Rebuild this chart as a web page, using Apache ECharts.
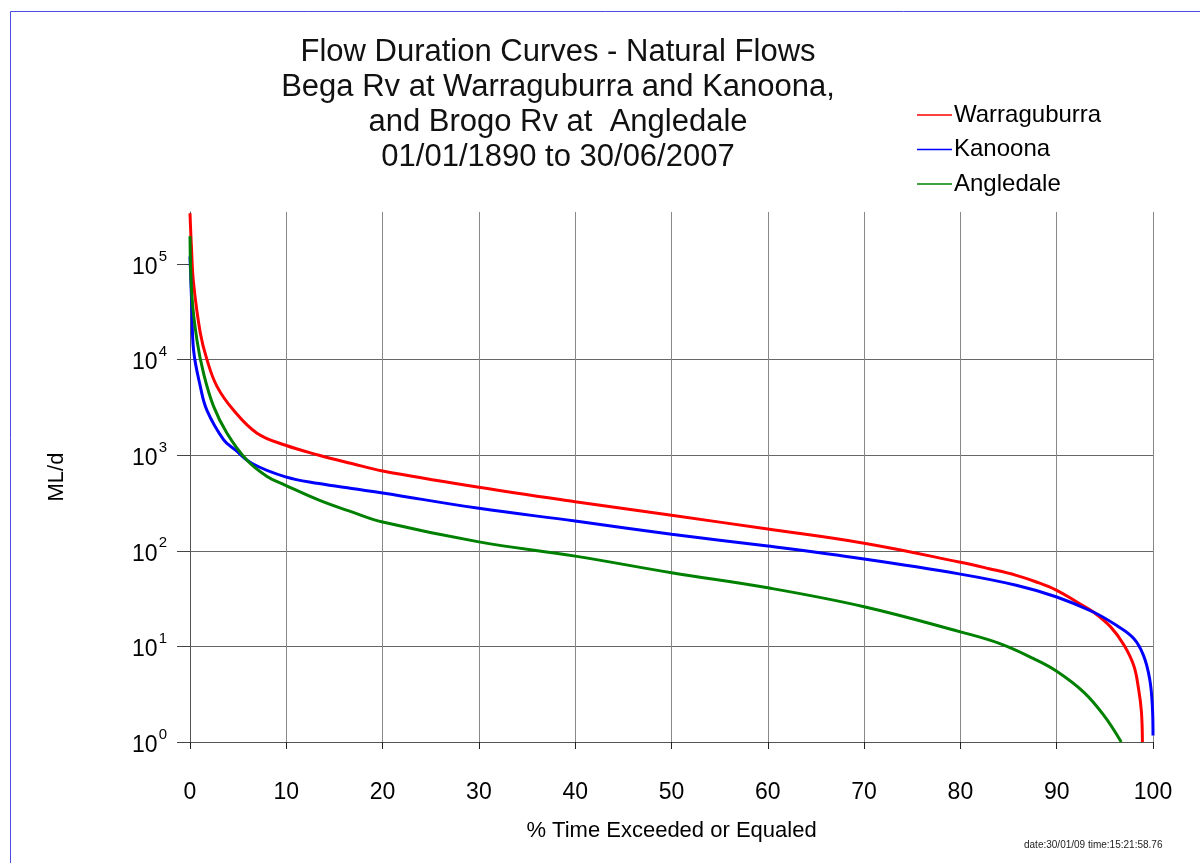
<!DOCTYPE html>
<html>
<head>
<meta charset="utf-8">
<title>Flow Duration Curves</title>
<script src="https://cdn.jsdelivr.net/npm/echarts@6/dist/echarts.min.js"></script>
<style>
  html, body { margin: 0; padding: 0; background: #fff; }
  #chart { width: 1200px; height: 863px; }
</style>
</head>
<body>
<div id="chart"></div>
<script>
// values: % time exceeded -> ML/d
const redPct = [0, 0.15, 0.37, 1.07, 1.76, 2.8, 4.53, 6.96, 9.93, 13.4, 16.8, 20, 30, 40, 50, 60, 70, 80, 83, 85.8, 87.9, 90, 92.1, 93.8, 95.6, 97, 98, 98.5, 98.8, 98.9]
const redFlow = [340000, 150000, 63000, 19000, 10000, 5250, 2950, 1700, 1270, 1000, 818, 684, 462, 326, 235, 169, 120, 76, 65, 55.4, 47.2, 38.6, 29.1, 22.9, 16, 10.3, 6.3, 3.6, 2.06, 1]

const bluePct = [0, 0.2, 0.37, 1.07, 1.76, 3.5, 4.7, 6.45, 9.93, 13.4, 16.8, 20, 30, 40, 50, 60, 70, 80, 85.8, 90, 93.8, 96.2, 98, 99, 99.65, 99.93, 100]
const blueFlow = [120000, 33000, 12600, 5250, 2950, 1450, 1135, 818, 593, 505, 448, 403, 278, 205, 149, 112, 82, 57, 43.6, 32.9, 22.9, 16.6, 12.1, 8.1, 4.6, 2.4, 1.17]

const greenPct = [0, 0.2, 0.73, 1.4, 2.45, 3.84, 5.9, 8.0, 9.93, 13.4, 16.8, 20, 30, 40, 50, 60, 70, 80, 84.1, 87.6, 90, 92.8, 94.9, 96.7]
const greenFlow = [195000, 45700, 15800, 7250, 3240, 1700, 890, 600, 484, 339, 255, 200, 124, 88, 59, 41, 26, 14.2, 10.7, 7.45, 5.5, 3.33, 1.9, 1]

const seriesNames = ['Warraguburra', 'Kanoona', 'Angledale']
const seriesColors = ['#ff0000', '#0000ff', '#008000']
const titleLines = [
    'Flow Duration Curves - Natural Flows',
    'Bega Rv at Warraguburra and Kanoona,',
    'and Brogo Rv at  Angledale',
    '01/01/1890 to 30/06/2007'
]
const yTicks = [1, 10, 100, 1000, 10000, 100000]

const font = "'Liberation Sans', Arial, sans-serif"

const pair = (xs, ys) => xs.map((x, i) => [x, ys[i]])
const allData = [pair(redPct, redFlow), pair(bluePct, blueFlow), pair(greenPct, greenFlow)]

const chart = echarts.init(document.getElementById('chart'))

let option = {
    backgroundColor: '#fff',
    animation: false,
    title: {
        text: titleLines.join('\n'),
        left: 553,
        top: 30,
        textAlign: 'center',
        textStyle: { fontFamily: font, fontSize: 31, lineHeight: 35, fontWeight: 'normal', color: '#111' }
    },
    legend: {
        orient: 'vertical',
        left: 912,
        top: 98,
        itemWidth: 35,
        itemHeight: 1.5,
        itemGap: 10.5,
        icon: 'rect',
        data: seriesNames,
        textStyle: { fontFamily: font, fontSize: 24, lineHeight: 24, color: '#000', padding: [0, 0, 0, -3] }
    },
    grid: {
        left: 190, right: 47, top: 212, bottom: 121,
        outerBoundsMode: 'none'
    },
    xAxis: {
        type: 'value',
        min: 0, max: 100, interval: 10,
        name: '% Time Exceeded or Equaled',
        nameLocation: 'middle',
        nameGap: 78,
        nameMoveOverlap: false,
        nameTextStyle: { fontFamily: font, fontSize: 22, color: '#000' },
        axisLine: { show: true, lineStyle: { color: '#555', width: 1 } },
        axisTick: { show: true, length: 7, lineStyle: { color: '#222' } },
        axisLabel: { fontFamily: font, fontSize: 23, color: '#000', margin: 39 },
        splitLine: { show: true, lineStyle: { color: '#888', width: 1 } }
    },
    yAxis: {
        type: 'log',
        logBase: 10,
        min: 1, max: 350000,
        name: 'ML/d',
        nameLocation: 'middle',
        nameGap: 122,
        nameMoveOverlap: false,
        nameTextStyle: { fontFamily: font, fontSize: 22, color: '#000' },
        axisLine: { show: true, lineStyle: { color: '#555', width: 1 } },
        axisTick: { show: true, length: 13, lineStyle: { color: '#444' }, customValues: yTicks },
        axisLabel: {
            margin: 23,
            customValues: yTicks,
            formatter: function (v) {
                const e = Math.round(Math.log10(v))
                if (Math.abs(Math.pow(10, e) - v) > 1e-6 * v) return ''
                return '{b|10}{s|' + e + '}'
            },
            rich: {
                b: { fontFamily: font, fontSize: 23, color: '#000', lineHeight: 30, verticalAlign: 'bottom' },
                s: { fontFamily: font, fontSize: 15, color: '#000', lineHeight: 30, verticalAlign: 'top', padding: [0, 0, 0, 1] }
            }
        },
        splitLine: { show: true, showMaxLine: false, lineStyle: { color: '#666', width: 1 } }
    },
    graphic: [
        {
            type: 'rect',
            shape: { x: 10.5, y: 11.5, width: 1400, height: 1000 },
            style: { fill: 'none', stroke: '#4b4be6', lineWidth: 1 },
            silent: true
        },
        {
            type: 'text',
            left: 1024,
            top: 840,
            style: { text: 'date:30/01/09 time:15:21:58.76', fontFamily: font, fontSize: 10, fill: '#222' }
        }
    ],
    series: seriesNames.map((name, i) => ({
        name: name,
        type: 'line',
        data: allData[i],
        showSymbol: false,
        smooth: 0.4,
        clip: true,
        color: seriesColors[i],
        lineStyle: { width: 3, color: seriesColors[i] }
    }))
}

chart.setOption(option)
</script>
</body>
</html>
